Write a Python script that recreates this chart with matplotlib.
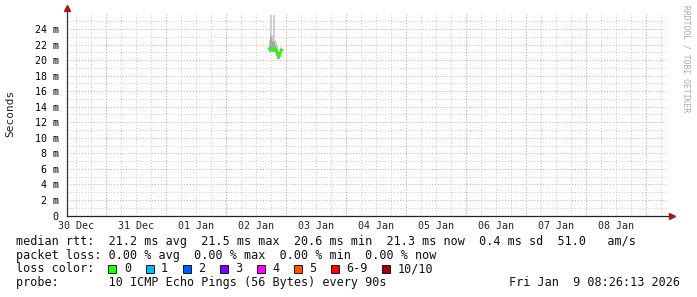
from datetime import datetime

import matplotlib
matplotlib.use("Agg")
import matplotlib.dates as mdates
import matplotlib.pyplot as plt
import matplotlib.ticker as mticker
from matplotlib.patches import Rectangle
from matplotlib.transforms import blended_transform_factory

MONO = "DejaVu Sans Mono"

# time window shown
t_start = datetime(2025, 12, 30, 8, 26, 13)
t_end = datetime(2026, 1, 9, 8, 26, 13)

# samples (one pixel column each)
times = [
    datetime(2026, 1, 2, 17, 12), datetime(2026, 1, 2, 17, 36), datetime(2026, 1, 2, 18, 0),
    datetime(2026, 1, 2, 18, 24), datetime(2026, 1, 2, 18, 48), datetime(2026, 1, 2, 19, 12),
    datetime(2026, 1, 2, 19, 36), datetime(2026, 1, 2, 20, 0), datetime(2026, 1, 2, 20, 24),
    datetime(2026, 1, 2, 20, 48), datetime(2026, 1, 2, 21, 12), datetime(2026, 1, 2, 21, 36),
    datetime(2026, 1, 2, 22, 0), datetime(2026, 1, 2, 22, 24),
]
median_ms = [21.4, 21.5, 21.5, 21.4, 21.5, 21.4, 21.3, 21.0, 20.6, 20.5, 20.5, 21.0, 21.3, 21.3]
smoke_max = [22.6, 25.8, 25.8, 23.2, 25.8, 25.8, 22.6, 22.3, 21.9, 21.4, 21.0, 21.7, 21.6, 21.6]
smoke_mid = [21.9, 23.2, 23.0, 22.5, 22.4, 22.3, 21.9, 21.7, 21.4, 21.0, 20.8, 21.4, 21.5, 21.5]
smoke_min = [21.0, 21.0, 21.1, 21.0, 21.1, 21.0, 20.9, 20.6, 20.2, 20.1, 20.1, 20.6, 21.0, 21.0]

y_ticks = [0, 2, 4, 6, 8, 10, 12, 14, 16, 18, 20, 22, 24]
midnights = [datetime(2025, 12, 31), datetime(2026, 1, 1), datetime(2026, 1, 2), datetime(2026, 1, 3),
             datetime(2026, 1, 4), datetime(2026, 1, 5), datetime(2026, 1, 6), datetime(2026, 1, 7),
             datetime(2026, 1, 8), datetime(2026, 1, 9)]
day_labels = ["30 Dec", "31 Dec", "01 Jan", "02 Jan", "03 Jan", "04 Jan", "05 Jan", "06 Jan", "07 Jan", "08 Jan"]
label_days = [datetime(2025, 12, 30, 12), datetime(2025, 12, 31, 12), datetime(2026, 1, 1, 12),
              datetime(2026, 1, 2, 12), datetime(2026, 1, 3, 12), datetime(2026, 1, 4, 12),
              datetime(2026, 1, 5, 12), datetime(2026, 1, 6, 12), datetime(2026, 1, 7, 12),
              datetime(2026, 1, 8, 12)]

loss_labels = ["0", "1", "2", "3", "4", "5", "6-9", "10/10"]
loss_colors = ["#26ff00", "#00b8ff", "#0059ff", "#7e00ff", "#ff00ff", "#ff5500", "#ff0000", "#a10000"]

legend_lines = [
    "median rtt:  21.2 ms avg  21.5 ms max  20.6 ms min  21.3 ms now  0.4 ms sd  51.0   am/s",
    "packet loss: 0.00 % avg  0.00 % max  0.00 % min  0.00 % now",
    "loss color:",
    "probe:       10 ICMP Echo Pings (56 Bytes) every 90s",
]
stamp = "Fri Jan  9 08:26:13 2026"

W, H = 697, 297
fig = plt.figure(figsize=(W / 100, H / 100), dpi=100)
fig.patch.set_facecolor("white")
ax = fig.add_axes([67 / W, 1 - 215.5 / H, 600 / W, 202 / H])

ax.fill_between(times, smoke_min, smoke_max, step="post", color="#cfcfcf", lw=0, zorder=2)
ax.fill_between(times, smoke_min, smoke_mid, step="post", color="#a6a6a6", lw=0, zorder=2)
ax.plot(times, median_ms, drawstyle="steps-post", color="#26ff00", lw=1.6, zorder=3)

ax.set_xlim(t_start, t_end)
ax.set_ylim(0, 26)

# grid
ax.xaxis.set_major_locator(mdates.HourLocator(byhour=[0, 6, 12, 18]))
ax.xaxis.set_major_formatter(mticker.NullFormatter())
ax.yaxis.set_major_locator(mticker.FixedLocator(y_ticks))
ax.yaxis.set_minor_locator(mticker.MultipleLocator(1))
ax.yaxis.set_major_formatter(mticker.FuncFormatter(lambda v, p: "0" if v == 0 else f"{int(v)} m"))
ax.grid(True, axis="x", which="major", color="#c8c8c8", ls=(0, (1, 2)), lw=0.7)
ax.grid(True, axis="y", which="minor", color="#c8c8c8", ls=(0, (1, 2)), lw=0.7)
ax.grid(True, axis="y", which="major", color="#eaa0a0", ls=(0, (1, 2)), lw=0.7)
for d in midnights:
    ax.axvline(d, color="#eaa0a0", ls=(0, (1, 2)), lw=0.7, zorder=1)
ax.set_axisbelow(True)
ax.tick_params(axis="both", which="both", length=0)
ax.tick_params(axis="y", pad=6, labelsize=7.2)
for lab in ax.get_yticklabels():
    lab.set_fontfamily(MONO)

trans = blended_transform_factory(ax.transData, ax.transAxes)
for d, lab in zip(label_days, day_labels):
    ax.text(d, -0.025, lab, transform=trans, ha="center", va="top",
            fontsize=7.2, family=MONO, color="#222222")

for s in ax.spines.values():
    s.set_visible(False)

# axes lines with arrows
ax.plot([0, 0], [0, 1.02], transform=ax.transAxes, color="#333333", lw=0.9, clip_on=False, zorder=4)
ax.plot([0, 1.008], [0, 0], transform=ax.transAxes, color="#222222", lw=0.9, clip_on=False, zorder=4)
ax.plot([0], [1.025], marker="^", ms=4, color="#a01818", transform=ax.transAxes, clip_on=False, zorder=5)
ax.plot([1.009], [0], marker=">", ms=4, color="#a01818", transform=ax.transAxes, clip_on=False, zorder=5)

fig.text(10 / W, 1 - 113 / H, "Seconds", rotation=90, ha="center", va="center",
         fontsize=8, family=MONO, color="#222222")
fig.text(686 / W, 1 - 5 / H, "RRDTOOL / TOBI OETIKER", rotation=270, ha="center", va="top",
         fontsize=5.8, family=MONO, color="#aaaaaa")

# legend block
line_y = [241.7, 255.4, 269.0, 282.7]
for txt, y in zip(legend_lines, line_y):
    fig.text(16 / W, 1 - y / H, txt, ha="left", va="center", fontsize=8.5, family=MONO, color="#111111")
fig.text(680 / W, 1 - line_y[3] / H, stamp, ha="right", va="center", fontsize=8.5, family=MONO, color="#111111")

box_x = [108.3, 145.5, 182.7, 219.8, 256.9, 294.0, 331.1, 382.0]
for bx, lab, col in zip(box_x, loss_labels, loss_colors):
    fig.patches.append(Rectangle((bx / W, 1 - 273 / H), 8 / W, 8 / H, transform=fig.transFigure,
                                 facecolor=col, edgecolor="black", lw=0.6))
    fig.text((bx + 15.5) / W, 1 - line_y[2] / H, lab, ha="left", va="center",
             fontsize=8.5, family=MONO, color="#111111")

fig.savefig("out.png", dpi=100, facecolor="white")
